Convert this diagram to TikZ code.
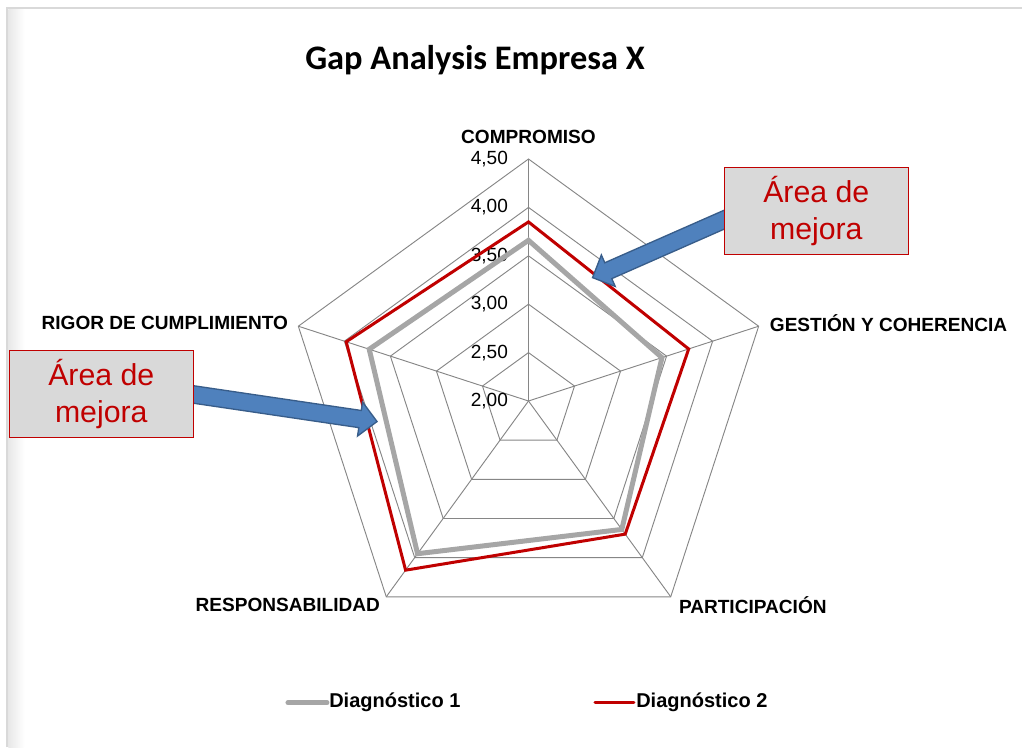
\documentclass[tikz,border=0pt]{standalone}
\usepackage{fontspec}
\setmainfont{Liberation Sans}
\newfontfamily\titlefont{Carlito}
\usetikzlibrary{shapes.arrows, positioning, calc}
\definecolor{gridgray}{RGB}{134, 134, 134}
\definecolor{diagone}{RGB}{166, 166, 166}
\definecolor{diagtwo}{RGB}{192, 0, 0}
\definecolor{boxgray}{RGB}{217, 217, 217}
\definecolor{arrowblue}{RGB}{79, 129, 189}
\definecolor{arrowedge}{RGB}{56, 93, 138}
\definecolor{framegray}{RGB}{217, 217, 217}
\pgfdeclarelayer{front}
\pgfsetlayers{main,front}

\begin{document}
\begin{tikzpicture}[x=0.75pt, y=0.75pt,
    gridline/.style={draw=gridgray, line width=0.7pt},
    serieone/.style={draw=diagone, line width=3.75pt},
    serietwo/.style={draw=diagtwo, line width=2.25pt},
    axislbl/.style={font=\fontsize{14.3}{16}\selectfont\bfseries, inner sep=0pt},
    ticklbl/.style={font=\fontsize{14.3}{16}\selectfont, inner sep=0pt, anchor=east},
    legtxt/.style={font=\fontsize{15}{17}\selectfont\bfseries, inner sep=0pt, anchor=west},
    notebox/.style={draw=diagtwo, fill=boxgray, line width=0.9pt, minimum width=138pt,
      minimum height=65pt, align=center, text=diagtwo, inner sep=0pt,
      font=\fontsize{22.7}{27.5}\selectfont},
    blockarrow/.style={single arrow, fill=arrowblue, draw=arrowedge, line width=1pt,
      inner xsep=0pt, inner ysep=6pt, single arrow head extend=6.4pt,
      single arrow tip angle=90}]
  \useasboundingbox (-528.5, -346) rectangle (493.5, 401);

  % chart frame
  \shade[left color=black!9, right color=white] (-520, -346) rectangle (-504, 391);
  \draw[framegray, line width=1.5pt] (-521.5, -346) -- (-521.5, 393) -- (493.5, 393);

  \node[font=\titlefont\bfseries\fontsize{25.8}{30}\selectfont] (title) at (-53.5, 341) {Gap Analysis Empresa X};

  % Radar: one unit = 0,50 on the scale
  \begin{scope}[x=72.6pt, y=72.6pt]
    \coordinate (ctr) at (0, 0);
    \coordinate (vC) at (90:2.5);
    \coordinate (vG) at (18:2.5);
    \coordinate (vP) at (-54:2.5);
    \coordinate (vR) at (-126:2.5);
    \coordinate (vRi) at (162:2.5);
    \foreach \r in {0.5, 1, 1.5, 2, 2.5}
      \draw[gridline] (90:\r) -- (18:\r) -- (-54:\r) -- (-126:\r) -- (162:\r) -- cycle;
    \foreach \v in {vC, vG, vP, vR, vRi}
      \draw[gridline] (ctr) -- (\v);
    \foreach \r/\t in {0/{2,00}, 0.5/{2,50}, 1/{3,00}, 1.5/{3,50}, 2/{4,00}, 2.5/{4,50}}
      \node[ticklbl] at (-0.21, \r) {\t};
    % Diagnostico 1 and 2
    \draw[serieone] (90:1.66) -- (18:1.45) -- (-54:1.64) -- (-126:1.95) -- (162:1.73) -- cycle;
    \draw[serietwo] (90:1.85) -- (18:1.74) -- (-54:1.70) -- (-126:2.16) -- (162:1.98) -- cycle;
  \end{scope}

  % axis names
  \node[axislbl] (lblC) at ($(vC)+(0, 22)$) {COMPROMISO};
  \node[axislbl, anchor=west] (lblG) at ($(vG)+(11, 3)$) {GESTIÓN Y COHERENCIA};
  \node[axislbl, anchor=west] (lblP) at ($(vP)+(8, -8)$) {PARTICIPACIÓN};
  \node[axislbl, anchor=east] (lblR) at ($(vR)+(-6, -8)$) {RESPONSABILIDAD};
  \node[axislbl, anchor=east] (lblRi) at ($(vRi)+(-10, 3)$) {RIGOR DE CUMPLIMIENTO};

  % notes
  \begin{pgfonlayer}{front}
    \node[notebox] (boxA) at (287.8, 190.2) {Área de\\mejora};
    \node[notebox] (boxB) at (-427.2, 7) {Área de\\mejora};
  \end{pgfonlayer}
  \coordinate (tipA) at (63.2, 123);
  \coordinate (tipB) at (-150.5, -20.7);
  \coordinate (startA) at ($(boxA.west)+(7, -6)$);
  \coordinate (startB) at ($(boxB.east)+(-7, 0.5)$);
  \path let \p1=($(tipA)-(startA)$), \n1={atan2(\y1,\x1)}, \n2={veclen(\x1,\y1)} in
    node[blockarrow, minimum height=\n2, rotate=\n1, anchor=tip] (arrowA) at (tipA) {};
  \path let \p1=($(tipB)-(startB)$), \n1={atan2(\y1,\x1)}, \n2={veclen(\x1,\y1)} in
    node[blockarrow, minimum height=\n2, rotate=\n1, anchor=tip] (arrowB) at (tipB) {};

  % legend
  \node[legtxt] (legOne) at (-199.5, -301.7) {Diagnóstico 1};
  \node[legtxt] (legTwo) at (107.5, -301.7) {Diagnóstico 2};
  \draw[serieone, line cap=round] ($(legOne.west)+(-41, 0)$) -- ($(legOne.west)+(-2, 0)$);
  \draw[serietwo, line cap=round] ($(legTwo.west)+(-41, 0)$) -- ($(legTwo.west)+(-2, 0)$);
\end{tikzpicture}
\end{document}
